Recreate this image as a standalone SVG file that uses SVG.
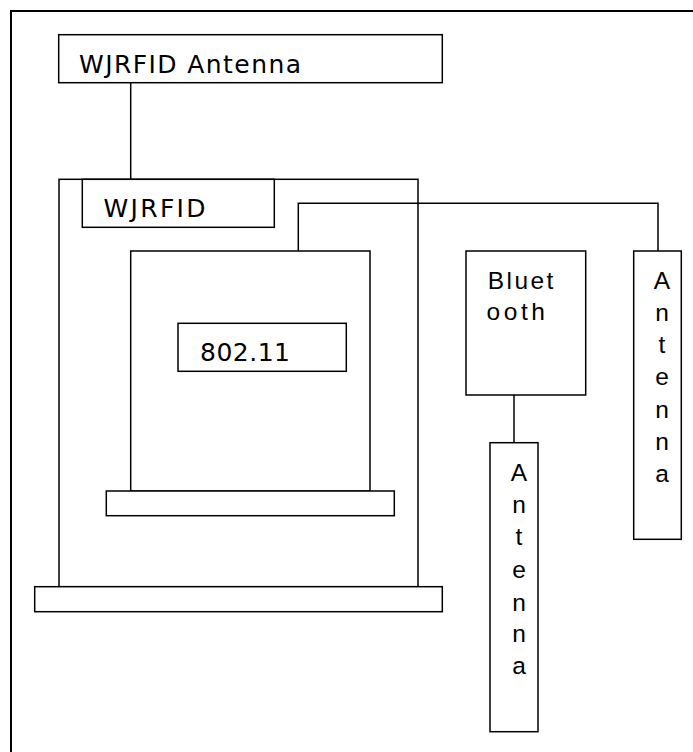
<svg xmlns="http://www.w3.org/2000/svg" width="693" height="752" viewBox="0 0 693 752">
<style>
.box{fill:#fff;stroke:#000;stroke-width:1.5}
.frame{fill:none;stroke:#000;stroke-width:2}
.conn{fill:none;stroke:#000;stroke-width:1.5}
.t{font-family:"DejaVu Sans","Verdana",sans-serif;font-size:25px;fill:#000}
.a{font-family:"Liberation Sans","Arial",sans-serif;font-size:24.5px;fill:#000}
</style>
<rect x="0" y="0" width="693" height="752" fill="#fff"/>
<rect class="frame" x="11" y="11" width="700" height="760"/>
<g id="wjrfid-antenna">
  <rect class="box" x="58.7" y="34.7" width="383.6" height="48"/>
  <text class="t" x="79" y="72.7" textLength="222" lengthAdjust="spacing">WJRFID Antenna</text>
</g>
<g id="device">
  <rect class="box" x="59" y="179.3" width="359" height="407.4"/>
</g>
<g id="device-base">
  <rect class="box" x="34.7" y="586.7" width="407.6" height="25"/>
</g>
<g id="wjrfid">
  <rect class="box" x="82.3" y="179.3" width="192" height="48"/>
  <text class="t" x="103.5" y="216.7" textLength="102" lengthAdjust="spacing">WJRFID</text>
</g>
<g id="laptop-screen">
  <rect class="box" x="130.7" y="251" width="239.3" height="240"/>
</g>
<g id="laptop-base">
  <rect class="box" x="106.3" y="491" width="288" height="24.7"/>
</g>
<g id="wifi">
  <rect class="box" x="178" y="323.3" width="168.3" height="48"/>
  <text class="t" x="200" y="361" textLength="90" lengthAdjust="spacing">802.11</text>
</g>
<g id="bluetooth">
  <rect class="box" x="466" y="251" width="119.7" height="144"/>
  <text class="a" x="487.7" y="289.3" textLength="65.7" lengthAdjust="spacing">Bluet</text>
  <text class="a" x="486.5" y="320" textLength="58.5" lengthAdjust="spacing">ooth</text>
</g>
<g id="antenna-right">
  <rect class="box" x="633.7" y="251" width="47.6" height="288.3"/>
  <g class="a" text-anchor="middle">
    <text x="662" y="289.3">A</text>
    <text x="662" y="321.3">n</text>
    <text x="662" y="353.3">t</text>
    <text x="662" y="385.3">e</text>
    <text x="662" y="417.7">n</text>
    <text x="662" y="450">n</text>
    <text x="662" y="481.7">a</text>
  </g>
</g>
<g id="antenna-bottom">
  <rect class="box" x="490" y="442.7" width="48" height="289"/>
  <g class="a" text-anchor="middle">
    <text x="519" y="480.7">A</text>
    <text x="519" y="512.7">n</text>
    <text x="519" y="545">t</text>
    <text x="519" y="578">e</text>
    <text x="519" y="610.5">n</text>
    <text x="519" y="642">n</text>
    <text x="519" y="674">a</text>
  </g>
</g>
<g id="connectors">
  <line class="conn" x1="130.7" y1="82.7" x2="130.7" y2="179.3"/>
  <polyline class="conn" points="298.3,251 298.3,203.3 658,203.3 658,251"/>
  <line class="conn" x1="514" y1="395" x2="514" y2="442.7"/>
</g>
</svg>
